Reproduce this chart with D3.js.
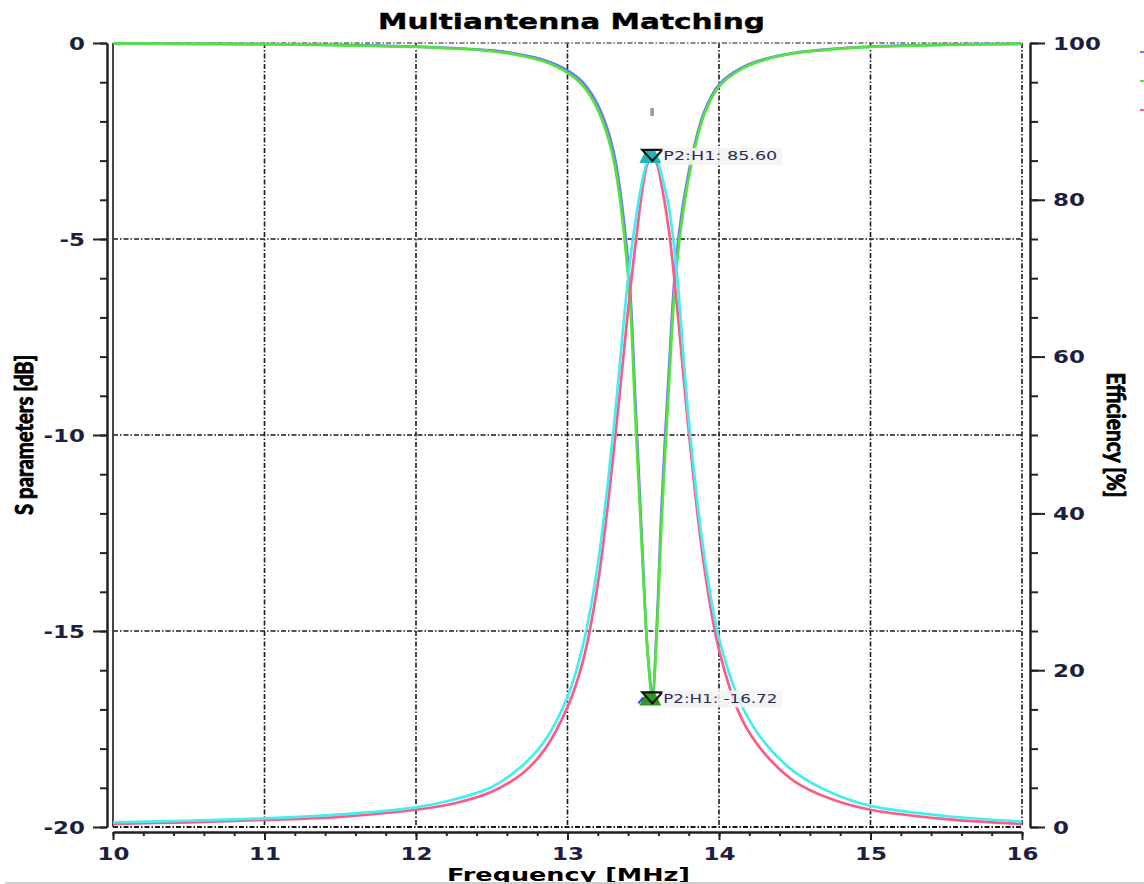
<!DOCTYPE html>
<html>
<head>
<meta charset="utf-8">
<script src="https://cdn.jsdelivr.net/npm/d3@7/dist/d3.min.js"></script>
<style>
  html, body { margin: 0; padding: 0; background: #fff; }
  svg { display: block; }
</style>
</head>
<body>
<svg id="chart" width="1144" height="884"></svg>
<script>
// Frequency sweep points [MHz]
const freq = [10, 10.5, 11, 11.5, 12, 12.25, 12.5, 12.7, 12.85, 13.0, 13.1, 13.2, 13.3, 13.4, 13.45, 13.5,
              13.53, 13.56, 13.59, 13.62, 13.67, 13.72, 13.8, 13.9, 14.0, 14.15, 14.3, 14.5, 14.75, 15, 15.5, 16];

// S parameters [dB]
const sBlue  = [-0.01, -0.02, -0.03, -0.05, -0.09, -0.13, -0.19, -0.30, -0.44, -0.70, -1.00, -1.58, -2.70, -5.60, -9.30, -13.4,
                -15.6, -16.6, -14.8, -11.9, -8.3, -5.4, -3.3, -1.78, -1.06, -0.63, -0.41, -0.25, -0.15, -0.09, -0.04, -0.02];
const sGreen = [-0.01, -0.02, -0.03, -0.06, -0.10, -0.14, -0.21, -0.33, -0.48, -0.76, -1.08, -1.70, -2.90, -5.95, -9.70, -13.6,
                -15.6, -16.72, -15.0, -12.3, -8.7, -5.7, -3.45, -1.85, -1.11, -0.66, -0.43, -0.26, -0.16, -0.10, -0.05, -0.02];

// Efficiency [%]
const effPink = [0.4, 0.6, 0.9, 1.3, 2.2, 3.0, 4.5, 6.8, 9.9, 15.3, 21.0, 31.0, 47.0, 66.0, 74.5, 82.0,
                 84.7, 85.4, 84.6, 82.0, 76.0, 67.0, 50.5, 33.5, 22.6, 13.8, 9.4, 5.8, 3.5, 2.2, 1.0, 0.4];
const effCyan = [0.6, 0.8, 1.1, 1.6, 2.5, 3.5, 5.1, 7.8, 11.0, 16.6, 23.0, 33.5, 50.0, 70.0, 77.5, 83.0,
                 85.0, 85.6, 85.1, 83.2, 79.0, 71.0, 52.0, 35.0, 24.1, 15.5, 10.8, 7.0, 4.3, 2.7, 1.4, 0.7];

// Axis ticks
const xTicks = [10, 11, 12, 13, 14, 15, 16];
const dbTicks = [0, -5, -10, -15, -20];
const effTicks = [0, 20, 40, 60, 80, 100];

// Markers
const markerFreq = 13.56;
const markerEff = 85.60;
const markerDb = -16.72;
const markerName = "P2:H1";

const svg = d3.select("#chart");
const W = 1144, H = 884;
const pLeft = 113, pRight = 1022, pTop = 43, pBottom = 827;
const SX = 1.35; // horizontal text stretch

const x = d3.scaleLinear().domain([10, 16]).range([pLeft, pRight]);
const yDb = d3.scaleLinear().domain([-20, 0]).range([pBottom, pTop]);
const yEff = d3.scaleLinear().domain([0, 100]).range([pBottom, pTop]);

svg.append("rect").attr("width", W).attr("height", H).attr("fill", "#fff");

// Grid
const gridDash = "5,2,1.5,2";
const grid = svg.append("g");
grid.selectAll("line.vx").data(xTicks.slice(1, -1)).join("line")
  .attr("x1", d => x(d)).attr("x2", d => x(d)).attr("y1", pTop).attr("y2", pBottom)
  .attr("stroke", "#1a1a1a").attr("stroke-width", 1.6).attr("stroke-dasharray", gridDash);
grid.selectAll("line.hy").data(dbTicks.slice(1, -1)).join("line")
  .attr("x1", pLeft).attr("x2", pRight).attr("y1", d => yDb(d)).attr("y2", d => yDb(d))
  .attr("stroke", "#1a1a1a").attr("stroke-width", 1.6).attr("stroke-dasharray", gridDash);

// Plot frame
svg.append("line").attr("x1", pLeft).attr("x2", pRight).attr("y1", pTop).attr("y2", pTop)
  .attr("stroke", "#666").attr("stroke-width", 1.6).attr("stroke-dasharray", gridDash);
svg.append("line").attr("x1", pLeft).attr("x2", pRight).attr("y1", pBottom).attr("y2", pBottom)
  .attr("stroke", "#1a1a1a").attr("stroke-width", 1.8).attr("stroke-dasharray", gridDash);
svg.append("line").attr("x1", pRight).attr("x2", pRight).attr("y1", pTop).attr("y2", pBottom)
  .attr("stroke", "#333").attr("stroke-width", 1.8).attr("stroke-dasharray", gridDash);
svg.append("line").attr("x1", pLeft).attr("x2", pLeft).attr("y1", pTop).attr("y2", pBottom)
  .attr("stroke", "#444").attr("stroke-width", 2);

// Axes
const labelColor = "#1e1e40";
function styleAxis(g) {
  g.selectAll("path.domain").attr("stroke", "#222").attr("stroke-width", 2);
  g.selectAll(".tick line").attr("stroke", "#222").attr("stroke-width", 2);
}

const minorDb = d3.range(-20, 0.001, 1);
const minorEff = d3.range(0, 100.001, 5);
const minorX = d3.range(10, 16.001, 0.2);

// Left axis (dB)
const gL = svg.append("g").attr("transform", "translate(107,0)");
gL.append("g").call(d3.axisLeft(yDb).tickValues(minorDb).tickFormat("").tickSize(7).tickSizeOuter(0)).call(styleAxis);
const gLM = gL.append("g").call(d3.axisLeft(yDb).tickValues(dbTicks).tickFormat(d => String(d)).tickSize(14).tickSizeOuter(0));
styleAxis(gLM);
gLM.selectAll(".tick text")
  .attr("font-family", "DejaVu Sans").attr("font-weight", "bold").attr("font-size", 17)
  .attr("fill", labelColor).attr("text-anchor", "end")
  .attr("x", -22 / SX).attr("dy", "0.36em")
  .attr("transform", `scale(${SX},1)`);

// Right axis (efficiency)
const gR = svg.append("g").attr("transform", "translate(1030,0)");
gR.append("g").call(d3.axisRight(yEff).tickValues(minorEff).tickFormat("").tickSize(8).tickSizeOuter(0)).call(styleAxis);
const gRM = gR.append("g").call(d3.axisRight(yEff).tickValues(effTicks).tickFormat(d => String(d)).tickSize(15).tickSizeOuter(0));
styleAxis(gRM);
gRM.selectAll(".tick text")
  .attr("font-family", "DejaVu Sans").attr("font-weight", "bold").attr("font-size", 17)
  .attr("fill", labelColor).attr("text-anchor", "start")
  .attr("x", 23 / SX).attr("dy", "0.36em")
  .attr("transform", `scale(${SX},1)`);

// Bottom axis (frequency)
const gB = svg.append("g").attr("transform", "translate(0,832)");
gB.append("g").call(d3.axisBottom(x).tickValues(minorX).tickFormat("").tickSize(4).tickSizeOuter(0)).call(styleAxis);
const gBM = gB.append("g").call(d3.axisBottom(x).tickValues(xTicks).tickFormat(d => String(d)).tickSize(8).tickSizeOuter(0));
styleAxis(gBM);
gBM.selectAll(".tick text")
  .attr("font-family", "DejaVu Sans").attr("font-weight", "bold").attr("font-size", 17)
  .attr("fill", labelColor).attr("text-anchor", "middle")
  .attr("x", 0).attr("y", 28).attr("dy", null)
  .attr("transform", `scale(${SX},1)`);

// Curves
const smooth = d3.curveCatmullRom.alpha(0.5);
const lineDb = vals => d3.line().x((d, i) => x(freq[i])).y(d => yDb(d)).curve(smooth)(vals);
const lineEff = vals => d3.line().x((d, i) => x(freq[i])).y(d => yEff(d)).curve(smooth)(vals);
const curves = svg.append("g").attr("fill", "none").attr("stroke-width", 2.7).attr("stroke-linejoin", "round");
curves.append("path").attr("d", lineDb(sBlue)).attr("stroke", "#7676f6");
curves.append("path").attr("d", lineDb(sGreen)).attr("stroke", "#52e43c");
curves.append("path").attr("d", lineEff(effPink)).attr("stroke", "#fa5c84");
curves.append("path").attr("d", lineEff(effCyan)).attr("stroke", "#44eef0");

// Small cursor tick above the peak
svg.append("rect").attr("x", x(markerFreq) - 2).attr("y", 108).attr("width", 3.5).attr("height", 8)
  .attr("fill", "#9a9a9a");

// Markers with value labels
function marker(cx, cy, fill, label, extraBlue) {
  const g = svg.append("g");
  g.append("path")
    .attr("d", `M${cx - 13},${cy + 7} L${cx + 9},${cy + 7} L${cx + 2},${cy - 7} L${cx - 6},${cy - 7} Z`)
    .attr("fill", fill);
  if (extraBlue) {
    g.append("line").attr("x1", cx - 14).attr("y1", cy + 5).attr("x2", cx - 9).attr("y2", cy - 1)
      .attr("stroke", "#2a3cff").attr("stroke-width", 2);
  }
  g.append("path")
    .attr("d", `M${cx - 10},${cy - 6} L${cx + 10},${cy - 6} L${cx},${cy + 5} Z`)
    .attr("fill", "none").attr("stroke", "#111").attr("stroke-width", 2.2).attr("stroke-linejoin", "miter");
  g.append("rect").attr("x", cx + 10).attr("y", cy - 8).attr("width", 120).attr("height", 17)
    .attr("fill", "#f3f3f3").attr("opacity", 0.9);
  g.append("text").attr("x", cx + 11).attr("y", cy + 4.5)
    .attr("font-family", "DejaVu Sans").attr("font-size", 12.5).attr("fill", "#2b2b55")
    .attr("textLength", 114).attr("lengthAdjust", "spacingAndGlyphs")
    .text(label);
}
marker(x(markerFreq), yEff(markerEff), "#1fb8b8", `${markerName}: ${markerEff.toFixed(2)}`, false);
marker(x(markerFreq), yDb(markerDb), "#2f9a1e", `${markerName}: ${markerDb.toFixed(2)}`, true);

// Title
svg.append("text").attr("x", 378).attr("y", 29)
  .attr("font-family", "DejaVu Sans").attr("font-weight", "bold").attr("font-size", 22)
  .attr("fill", "#000").attr("stroke", "#000").attr("stroke-width", 0.4)
  .attr("textLength", 387).attr("lengthAdjust", "spacingAndGlyphs")
  .text("Multiantenna Matching");

// Axis titles
svg.append("text").attr("x", 447).attr("y", 881)
  .attr("font-family", "DejaVu Sans").attr("font-weight", "bold").attr("font-size", 18)
  .attr("fill", "#000").attr("textLength", 243).attr("lengthAdjust", "spacingAndGlyphs")
  .text("Frequency [MHz]");

svg.append("text")
  .attr("transform", "translate(33,435) rotate(-90) scale(1,1.3)")
  .attr("text-anchor", "middle")
  .attr("font-family", "Lato").attr("font-weight", "bold").attr("font-size", 19)
  .attr("fill", "#000").attr("stroke", "#000").attr("stroke-width", 0.7)
  .attr("textLength", 160).attr("lengthAdjust", "spacingAndGlyphs")
  .text("S parameters [dB]");

svg.append("text")
  .attr("transform", "translate(1107,435) rotate(90) scale(1,1.3)")
  .attr("text-anchor", "middle")
  .attr("font-family", "Lato").attr("font-weight", "bold").attr("font-size", 19)
  .attr("fill", "#000").attr("stroke", "#000").attr("stroke-width", 0.7)
  .attr("textLength", 125).attr("lengthAdjust", "spacingAndGlyphs")
  .text("Efficiency [%]");

// Legend swatches at the right edge
const legendColors = ["#7676f6", "#52e43c", "#fa5c84"];
svg.selectAll("line.leg").data(legendColors).join("line")
  .attr("x1", 1140).attr("x2", 1144)
  .attr("y1", (d, i) => 52 + i * 29).attr("y2", (d, i) => 52 + i * 29)
  .attr("stroke", d => d).attr("stroke-width", 2);

// Bottom separator
svg.append("line").attr("x1", 5).attr("x2", W).attr("y1", 883).attr("y2", 883)
  .attr("stroke", "#cfcfcf").attr("stroke-width", 2);
</script>
</body>
</html>
